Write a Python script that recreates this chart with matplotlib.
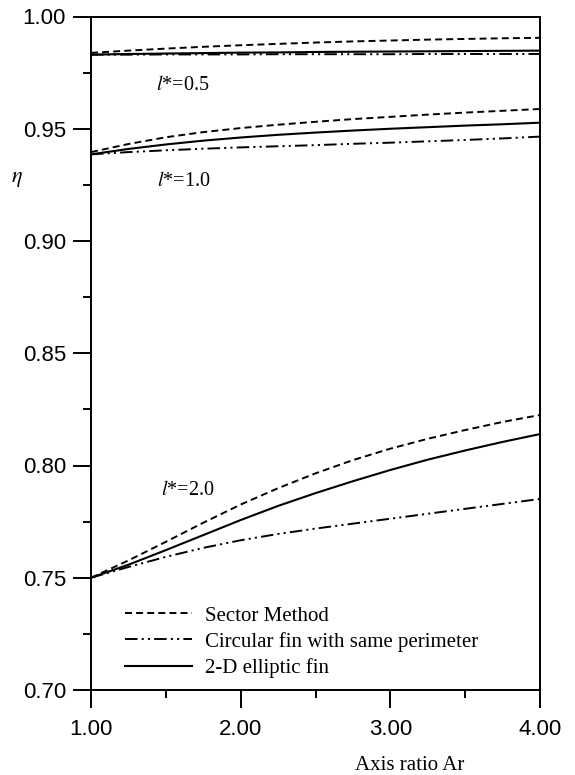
import matplotlib
matplotlib.use("Agg")
import matplotlib.pyplot as plt
from matplotlib.ticker import MultipleLocator, FormatStrFormatter

plt.rcParams["mathtext.fontset"] = "stix"
plt.rcParams["lines.scale_dashes"] = False

# razao de eixos Ar
ar = [1.00, 1.25, 1.50, 1.75, 2.00, 2.25, 2.50, 2.75, 3.00, 3.25, 3.50, 3.75, 4.00]

# l* = 0.5
setor_05 = [0.9838, 0.9848, 0.9857, 0.9865, 0.9872, 0.9878, 0.9884, 0.9889, 0.9893, 0.9897, 0.9900, 0.9903, 0.9905]
circ_05 = [0.9830, 0.9830, 0.9831, 0.9831, 0.9831, 0.9832, 0.9832, 0.9832, 0.9832, 0.9833, 0.9833, 0.9833, 0.9833]
elip_05 = [0.9830, 0.9833, 0.9835, 0.9837, 0.9839, 0.9840, 0.9842, 0.9843, 0.9844, 0.9845, 0.9846, 0.9847, 0.9848]

# l* = 1.0
setor_10 = [0.9396, 0.9432, 0.9462, 0.9485, 0.9503, 0.9518, 0.9531, 0.9543, 0.9553, 0.9563, 0.9572, 0.9580, 0.9588]
circ_10 = [0.9386, 0.9396, 0.9404, 0.9411, 0.9417, 0.9422, 0.9427, 0.9433, 0.9438, 0.9444, 0.9450, 0.9457, 0.9465]
elip_10 = [0.9386, 0.9410, 0.9430, 0.9447, 0.9461, 0.9473, 0.9483, 0.9492, 0.9500, 0.9507, 0.9514, 0.9520, 0.9527]

# l* = 2.0
setor_20 = [0.7500, 0.7577, 0.7660, 0.7745, 0.7826, 0.7899, 0.7965, 0.8024, 0.8075, 0.8119, 0.8158, 0.8194, 0.8225]
circ_20 = [0.7500, 0.7548, 0.7593, 0.7633, 0.7667, 0.7695, 0.7719, 0.7741, 0.7763, 0.7785, 0.7807, 0.7829, 0.7851]
elip_20 = [0.7500, 0.7558, 0.7623, 0.7690, 0.7757, 0.7820, 0.7877, 0.7930, 0.7980, 0.8026, 0.8067, 0.8105, 0.8140]

rotulos_l = ["0.5", "1.0", "2.0"]
nomes = ["Sector Method", "Circular fin with same perimeter", "2-D elliptic fin"]

tracejado = (0, (5, 3))
traco_ponto = (0, (9, 3, 1.5, 3, 1.5, 3))

fig = plt.figure(figsize=(5.75, 7.75), dpi=100)
ax = fig.add_axes([91 / 575, 1 - 690 / 775, 449 / 575, 673.5 / 775])

for setor, circ, elip in [(setor_05, circ_05, elip_05), (setor_10, circ_10, elip_10), (setor_20, circ_20, elip_20)]:
    l1, = ax.plot(ar, setor, color="black", lw=1.4, linestyle=tracejado)
    l2, = ax.plot(ar, circ, color="black", lw=1.4, linestyle=traco_ponto)
    l3, = ax.plot(ar, elip, color="black", lw=1.5, linestyle="-")

ax.set_xlim(1.0, 4.0)
ax.set_ylim(0.70, 1.00)
ax.xaxis.set_major_locator(MultipleLocator(1.0))
ax.xaxis.set_minor_locator(MultipleLocator(0.5))
ax.yaxis.set_major_locator(MultipleLocator(0.05))
ax.yaxis.set_minor_locator(MultipleLocator(0.025))
ax.xaxis.set_major_formatter(FormatStrFormatter("%.2f"))
ax.yaxis.set_major_formatter(FormatStrFormatter("%.2f"))

ax.tick_params(which="major", direction="out", length=13, width=1.4, labelsize=16, pad=5)
ax.tick_params(which="minor", direction="out", length=6, width=1.4)
ax.tick_params(axis="x", which="major", pad=8)
for lab in ax.get_xticklabels() + ax.get_yticklabels():
    lab.set_fontfamily("Liberation Sans")
for sp in ax.spines.values():
    sp.set_linewidth(1.4)

# rotulos das curvas
pos_rotulos = [(1.435, 0.9694), (1.44, 0.9266), (1.47, 0.7890)]
for (xr, yr), txt in zip(pos_rotulos, rotulos_l):
    ax.text(xr, yr, "$l$*=" + txt, fontsize=14.5, family="Liberation Serif", ha="left", va="center")

leg = ax.legend([l1, l2, l3], nomes, loc="upper left", bbox_to_anchor=(34 / 449, (690 - 606) / 673.5),
                frameon=False, borderpad=0, borderaxespad=0, handlelength=3.2, handletextpad=0.65,
                labelspacing=0.3, prop={"family": "Liberation Serif", "size": 15})

fig.text(17 / 575, 1 - 179 / 775, r"$\eta$", fontsize=16, ha="center", va="center")
fig.text(410 / 575, 1 - 765 / 775, "Axis ratio Ar", fontsize=15, family="Liberation Serif", ha="center", va="center")

fig.savefig("out.png", dpi=100)
